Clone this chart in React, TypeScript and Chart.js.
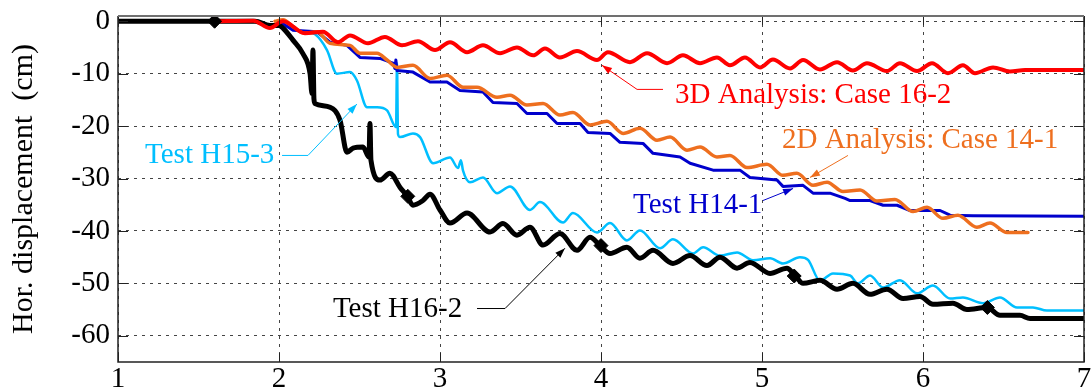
import React, { useEffect, useRef } from "react";
import { Chart, registerables } from "chart.js";

Chart.register(...registerables);

// ---------- axis ticks ----------
const xTicks = [1, 2, 3, 4, 5, 6, 7];
const yTicks = [0, -10, -20, -30, -40, -50, -60];

// ---------- 3D Analysis: Case 16-2 (red) ----------
const redX = [1.6, 1.84, 1.944, 2.006, 2.025, 2.161, 2.273, 2.366, 2.441, 2.553, 2.658, 2.764, 2.863, 2.969, 3.062, 3.168, 3.267, 3.373, 3.478, 3.578, 3.652, 3.745, 3.851, 3.975, 4.043, 4.18, 4.286, 4.41, 4.509, 4.615, 4.72, 4.801, 4.894, 4.988, 5.068, 5.174, 5.255, 5.36, 5.466, 5.565, 5.652, 5.776, 5.857, 5.963, 6.056, 6.155, 6.248, 6.323, 6.435, 6.54, 6.634, 7];
const redY = [0, 0.1, -1.3, -0.2, 0, -2.3, -2, -4, -2.7, -4.2, -3, -4.6, -3.8, -5.5, -4, -5.9, -4.6, -6.1, -5, -6.5, -5.2, -6.9, -5.7, -7.4, -5.9, -7.8, -6.1, -8, -6.5, -8, -6.9, -8.4, -6.9, -8.8, -7.3, -9, -7.4, -9.2, -7.8, -9.4, -8, -9.5, -8, -9.5, -8, -9.9, -8.4, -9.9, -8.8, -9.6, -9.3, -9.3];

// ---------- 2D Analysis: Case 14-1 (orange) ----------
const orangeX = [1.975, 2.025, 2.087, 2.161, 2.236, 2.317, 2.441, 2.503, 2.609, 2.671, 2.733, 2.832, 2.938, 3.043, 3.143, 3.23, 3.354, 3.435, 3.54, 3.64, 3.745, 3.826, 3.932, 4.037, 4.137, 4.242, 4.348, 4.429, 4.534, 4.615, 4.72, 4.801, 4.907, 5.031, 5.13, 5.217, 5.317, 5.404, 5.503, 5.609, 5.714, 5.826, 5.938, 6.025, 6.124, 6.217, 6.335, 6.416, 6.522, 6.652];
const orangeY = [0, 0.3, -1.0, -2.3, -2, -4.2, -4.6, -6.1, -6.1, -7.4, -8.8, -8.4, -10.9, -10.3, -12.6, -12.6, -14.5, -14.1, -16, -15.7, -17.9, -17.4, -19.8, -19.1, -21.4, -20.4, -22.7, -22.1, -24.6, -24, -25.9, -25.6, -27.9, -27.3, -29.4, -29, -31.3, -30.7, -32.5, -32.2, -34.3, -34.0, -36.3, -35.5, -37.6, -37, -39.3, -38.5, -40.3, -40.3];

// ---------- Test H14-1 (blue) ----------
const blueX = [2.0, 2.087, 2.236, 2.317, 2.422, 2.503, 2.627, 2.708, 2.72, 2.726, 2.733, 2.832, 2.938, 3.043, 3.124, 3.267, 3.329, 3.478, 3.54, 3.665, 3.727, 3.87, 3.919, 4.056, 4.118, 4.261, 4.323, 4.491, 4.553, 4.696, 4.863, 4.925, 5.093, 5.13, 5.255, 5.317, 5.422, 5.516, 5.547, 5.671, 5.752, 5.839, 5.919, 6.106, 6.168, 6.311, 7];
const blueY = [0, -1.7, -2, -4, -4.6, -6.9, -7.1, -8, -9, -7.4, -9.4, -9.7, -11.6, -11.6, -13.2, -13.5, -15.5, -15.7, -17.6, -17.6, -19.5, -19.5, -21.2, -21.4, -23.1, -23.3, -25.2, -25.9, -27.1, -28.4, -28.4, -29.8, -30.3, -31.5, -31.3, -32.8, -32.8, -33.8, -34.2, -34.2, -35.1, -35.1, -36.1, -36.1, -37, -37.1, -37.2];

// ---------- Test H15-3 (cyan) ----------
const cyanX = [2.0, 2.087, 2.161, 2.224, 2.298, 2.36, 2.441, 2.484, 2.547, 2.609, 2.671, 2.727, 2.733, 2.739, 2.752, 2.832, 2.876, 2.957, 3.062, 3.112, 3.13, 3.143, 3.186, 3.267, 3.354, 3.435, 3.559, 3.621, 3.764, 3.826, 3.975, 4.056, 4.161, 4.242, 4.366, 4.447, 4.571, 4.634, 4.739, 4.845, 4.944, 5.05, 5.13, 5.236, 5.286, 5.36, 5.441, 5.547, 5.596, 5.671, 5.752, 5.857, 5.963, 6.062, 6.168, 6.248, 6.373, 6.478, 6.584, 6.683, 6.77, 7];
const cyanY = [0, -1.5, -2, -2.5, -5.5, -10, -9.7, -11.3, -16.4, -16.4, -17, -20.2, -8, -21.5, -22.1, -21.4, -22.1, -27.1, -26, -28, -26.5, -28.5, -30.7, -29.8, -32.8, -31.5, -36, -34.5, -38.4, -36.6, -40.3, -38.5, -41.8, -39.9, -43.3, -41.6, -44.3, -43.1, -44.7, -44.1, -45.6, -45.2, -46.2, -45, -45.5, -49.5, -48.1, -48.5, -50, -48.5, -50.8, -49.4, -51.9, -50.4, -52.9, -52.7, -53.8, -52.7, -54.6, -54.6, -55.2, -55.2];

// ---------- Test H16-2 (black) ----------
const blackX = [1, 1.602, 1.851, 1.944, 2.0, 2.025, 2.087, 2.149, 2.193, 2.205, 2.211, 2.217, 2.224, 2.317, 2.379, 2.422, 2.46, 2.522, 2.559, 2.565, 2.571, 2.627, 2.689, 2.752, 2.795, 2.832, 2.894, 2.938, 3.0, 3.062, 3.168, 3.311, 3.391, 3.478, 3.559, 3.64, 3.745, 3.851, 3.932, 3.994, 4.056, 4.161, 4.242, 4.323, 4.447, 4.553, 4.658, 4.739, 4.845, 4.925, 5.05, 5.155, 5.205, 5.255, 5.36, 5.466, 5.565, 5.671, 5.776, 5.876, 5.981, 6.062, 6.186, 6.273, 6.398, 6.478, 6.602, 6.665, 7];
const blackY = [0, 0, 0, -0.8, -0.8, -1.3, -3.6, -6.2, -10, -13.8, -5.5, -14.8, -15.7, -16.4, -18.9, -25, -24.2, -24, -25.9, -19.5, -26.5, -30.3, -29, -31.7, -33.3, -35.1, -34.2, -33, -36, -38.5, -36.6, -40.2, -38.6, -40.8, -39.3, -42.7, -40.5, -43.7, -41.2, -42.8, -44.3, -43.1, -45.2, -43.7, -46.2, -44.7, -46.6, -45, -47.1, -46, -48.1, -47.1, -48.5, -50, -49.4, -51.1, -50, -52.1, -51.1, -52.9, -52.5, -54, -53.8, -55, -54.6, -56.1, -56.1, -56.7, -56.7];

// diamond markers on Test H16-2
const markerX = [1.6, 2.8, 4.0, 5.2, 6.4];
const markerY = [0, -33.4, -42.8, -48.6, -54.6];

const FONT = "'Liberation Serif', 'Times New Roman', serif";

// annotations (data coordinates)
const annotations = [
  { text: "3D Analysis: Case 16-2", color: "#ff0000", tx: 4.46, ty: -15.5, line: [[4.385, -13.0], [4.224, -13.0], [4.006, -8.4]] },
  { text: "2D Analysis: Case 14-1", color: "#ee6f1f", tx: 5.124, ty: -24.2, line: [[5.534, -25.6], [5.298, -29.8]] },
  { text: "Test H14-1", color: "#0000cc", tx: 4.199, ty: -36.6, line: [[5.006, -34.2], [5.193, -31.9]] },
  { text: "Test H15-3", color: "#00bfff", tx: 1.168, ty: -27.1, line: [[2.019, -25.6], [2.18, -25.6], [2.484, -15.8]] },
  { text: "Test H16-2", color: "#000000", tx: 2.335, ty: -56.5, line: [[3.23, -54.8], [3.404, -54.8], [3.776, -43.3]] },
];

function pts(xs: number[], ys: number[]) {
  return xs.map((x, i) => ({ x, y: ys[i] }));
}

const framePlugin = {
  id: "frame",
  afterDatasetsDraw(chart: any) {
    const { ctx, chartArea: a, scales } = chart;
    ctx.save();
    // inward ticks
    ctx.strokeStyle = "#222";
    ctx.lineWidth = 1;
    ctx.setLineDash([]);
    ctx.beginPath();
    for (const v of xTicks) {
      const px = Math.round(scales.x.getPixelForValue(v)) + 0.5;
      ctx.moveTo(px, a.bottom);
      ctx.lineTo(px, a.bottom - 9);
      ctx.moveTo(px, a.top);
      ctx.lineTo(px, a.top + 9);
    }
    for (const v of yTicks) {
      const py = Math.round(scales.y.getPixelForValue(v)) + 0.5;
      ctx.moveTo(a.left, py);
      ctx.lineTo(a.left + 10, py);
      ctx.moveTo(a.right, py);
      ctx.lineTo(a.right - 10, py);
    }
    ctx.stroke();
    // frame
    ctx.lineWidth = 1.5;
    ctx.strokeStyle = "#222";
    ctx.beginPath();
    ctx.moveTo(a.left, a.top);
    ctx.lineTo(a.left, a.bottom);
    ctx.lineTo(a.right, a.bottom);
    ctx.lineTo(a.right, a.top);
    ctx.stroke();
    ctx.strokeStyle = "#707070";
    ctx.lineWidth = 2;
    ctx.beginPath();
    ctx.moveTo(a.left, a.top);
    ctx.lineTo(a.right, a.top);
    ctx.stroke();

    // annotations
    ctx.font = `29px ${FONT}`;
    ctx.textBaseline = "alphabetic";
    ctx.textAlign = "left";
    for (const an of annotations) {
      ctx.fillStyle = an.color;
      ctx.fillText(an.text, scales.x.getPixelForValue(an.tx), scales.y.getPixelForValue(an.ty));
      const p = an.line.map(([x, y]) => [scales.x.getPixelForValue(x), scales.y.getPixelForValue(y)]);
      ctx.strokeStyle = an.color;
      ctx.lineWidth = 1;
      ctx.beginPath();
      ctx.moveTo(p[0][0], p[0][1]);
      for (let i = 1; i < p.length; i++) ctx.lineTo(p[i][0], p[i][1]);
      ctx.stroke();
      const [x1, y1] = p[p.length - 2];
      const [x2, y2] = p[p.length - 1];
      const ang = Math.atan2(y2 - y1, x2 - x1);
      const L = 10, W = 3.5;
      ctx.fillStyle = an.color;
      ctx.beginPath();
      ctx.moveTo(x2, y2);
      ctx.lineTo(x2 - L * Math.cos(ang) + W * Math.sin(ang), y2 - L * Math.sin(ang) - W * Math.cos(ang));
      ctx.lineTo(x2 - L * Math.cos(ang) - W * Math.sin(ang), y2 - L * Math.sin(ang) + W * Math.cos(ang));
      ctx.closePath();
      ctx.fill();
    }
    ctx.restore();
  },
};

export default function App() {
  const ref = useRef<HTMLCanvasElement>(null);
  useEffect(() => {
    const tickFont = { family: FONT, size: 29 };
    const line = (data: any, color: string, width: number, smooth: boolean) => ({
      data,
      borderColor: color,
      backgroundColor: color,
      borderWidth: width,
      pointRadius: 0,
      fill: false,
      cubicInterpolationMode: smooth ? "monotone" : "default",
      borderJoinStyle: "round",
      borderCapStyle: "round",
    });
    const chart = new Chart(ref.current as HTMLCanvasElement, {
      type: "line",
      data: {
        datasets: [
          {
            data: pts(markerX, markerY),
            showLine: false,
            pointStyle: "rectRot",
            pointRadius: 7,
            pointBackgroundColor: "#000",
            pointBorderColor: "#000",
            borderColor: "#000",
          } as any,
          line(pts(redX, redY), "#ff0000", 4, true),
          line(pts(blackX, blackY), "#000000", 5, true),
          line(pts(orangeX, orangeY), "#ee6f1f", 3.5, true),
          line(pts(blueX, blueY), "#0000cc", 3, false),
          line(pts(cyanX, cyanY), "#00bfff", 2.5, true),
        ],
      },
      options: {
        animation: false,
        responsive: false,
        devicePixelRatio: 1,
        events: [],
        layout: { padding: { left: 0, right: 7, top: 16, bottom: 0 }, autoPadding: false } as any,
        plugins: { legend: { display: false }, tooltip: { enabled: false } },
        scales: {
          x: {
            type: "linear",
            min: 1,
            max: 7,
            afterFit: (s: any) => { s.height = 29; s.paddingLeft = 0; s.paddingRight = 0; },
            afterBuildTicks: (s: any) => { s.ticks = xTicks.map((v) => ({ value: v })); },
            grid: { color: "#444", lineWidth: 1, drawTicks: false },
            border: { display: false, dash: [3, 5] },
            ticks: { font: tickFont, color: "#000", padding: 0, maxRotation: 0, autoSkip: false, callback: (v: any) => String(v) },
          },
          y: {
            type: "linear",
            min: -65,
            max: 1,
            afterFit: (s: any) => { s.width = 118; s.paddingTop = 0; s.paddingBottom = 0; },
            afterBuildTicks: (s: any) => { s.ticks = yTicks.map((v) => ({ value: v })); },
            grid: { color: "#444", lineWidth: 1, drawTicks: false },
            border: { display: false, dash: [3, 5] },
            ticks: { font: tickFont, color: "#000", padding: 8, autoSkip: false, callback: (v: any) => String(v) },
            title: { display: true, text: "Hor. displacement  (cm)", font: { family: FONT, size: 30 }, color: "#000", padding: { top: 6, bottom: 0 } },
          },
        },
      } as any,
      plugins: [framePlugin],
    });
    return () => chart.destroy();
  }, []);
  return (
    <div style={{ position: "fixed", left: 0, top: 0, width: 1091, height: 391, background: "#fff" }}>
      <canvas ref={ref} width={1091} height={391} style={{ display: "block", width: 1091, height: 391 }} />
    </div>
  );
}
